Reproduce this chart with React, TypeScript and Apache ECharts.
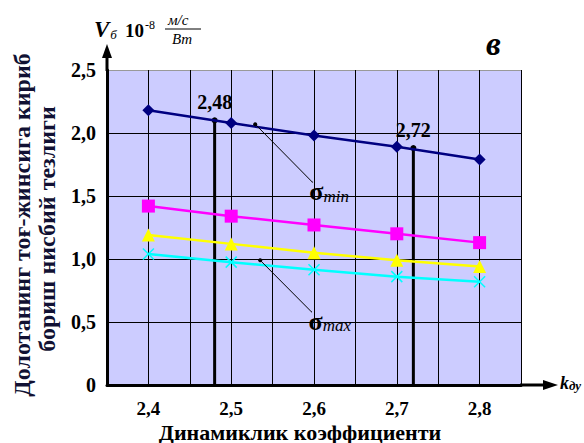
import React, { useEffect, useRef } from "react";
import * as echarts from "echarts";

const xCategories = [2.4, 2.5, 2.6, 2.7, 2.8];
const sigmaMin = [2.18, 2.08, 1.98, 1.89, 1.79];
const magentaSeries = [1.42, 1.34, 1.27, 1.2, 1.13];
const yellowSeries = [1.19, 1.12, 1.05, 0.99, 0.94];
const sigmaMax = [1.04, 0.975, 0.915, 0.86, 0.82];
const dropPoints = [
  { x: 2.48, y: 2.1, label: "2,48" },
  { x: 2.72, y: 1.88, label: "2,72" },
];
const pointerMin = [[2.529, 2.07], [2.598, 1.61]];
const pointerMax = [[2.535, 0.99], [2.597, 0.58]];

const SERIF = "Liberation Serif";

function pairs(vals: number[]) {
  return xCategories.map((x, i) => [x, vals[i]]);
}

export default function App() {
  const ref = useRef<HTMLDivElement>(null);
  useEffect(() => {
    if (!ref.current) return;
    const chart = echarts.init(ref.current, undefined, { renderer: "svg" });
    const markerSeries = (name: string, vals: number[], color: string, symbol: string, size: number) => ({
      name,
      type: "line",
      data: pairs(vals),
      symbol,
      symbolSize: size,
      lineStyle: { color, width: 2.5 },
      itemStyle: { color },
      z: 5,
    });
    const drops = dropPoints.map((p) => ({
      type: "line",
      data: [
        {
          value: [p.x, p.y],
          symbol: "circle",
          symbolSize: 6,
          label: {
            show: true,
            position: "top",
            distance: 5,
            formatter: p.label,
            fontFamily: SERIF,
            fontWeight: "bold",
            fontSize: 20,
            color: "#000",
          },
        },
        { value: [p.x, 0], symbol: "none" },
      ],
      lineStyle: { color: "#000", width: 3 },
      itemStyle: { color: "#000" },
      z: 4,
    }));
    const pointer = (pts: number[][], sub: string) => ({
      type: "line",
      data: [
        { value: pts[0], symbol: "circle", symbolSize: 4 },
        {
          value: pts[1],
          symbol: "circle",
          symbolSize: 1,
          label: {
            show: true,
            position: "bottom",
            align: "left",
            distance: -4,
            offset: [-3, 0],
            formatter: `{s|σ}{t|${sub}}`,
            rich: {
              s: { fontFamily: SERIF, fontWeight: "bold", fontSize: 26, color: "#000" },
              t: { fontFamily: SERIF, fontStyle: "italic", fontSize: 17, color: "#000", padding: [9, 0, 0, 0] },
            },
          },
        },
      ],
      lineStyle: { color: "#000", width: 1 },
      itemStyle: { color: "#000" },
      z: 6,
    });
    chart.setOption({
      animation: false,
      grid: {
        left: 107,
        top: 70,
        right: 63,
        bottom: 58,
        show: true,
        backgroundColor: "#CCCCFF",
        borderWidth: 0,
        containLabel: false,
      },
      xAxis: {
        type: "value",
        min: 2.35,
        max: 2.85,
        interval: 0.05,
        axisLine: { show: true, lineStyle: { color: "#000", width: 3 } },
        axisTick: { show: false },
        splitLine: { show: true, lineStyle: { color: "#000", width: 1 } },
        axisLabel: {
          margin: 14,
          fontFamily: SERIF,
          fontWeight: "bold",
          fontSize: 19,
          lineHeight: 19,
          color: "#000",
          formatter: (v: number) => {
            const h = Math.round(v * 100);
            if (h % 10 !== 0) return "";
            return (h / 100).toFixed(1).replace(".", ",");
          },
        },
      },
      yAxis: {
        type: "value",
        min: 0,
        max: 2.5,
        interval: 0.5,
        axisLine: { show: true, lineStyle: { color: "#000", width: 3 } },
        axisTick: { show: false },
        splitLine: {
          show: true,
          lineStyle: { color: ["#000", "#000", "#000", "#000", "#000", "#999"], width: 1 },
        },
        axisLabel: {
          margin: 11,
          fontFamily: SERIF,
          fontWeight: "bold",
          fontSize: 20,
          color: "#000",
          formatter: (v: number) => (v === 0 ? "0" : v.toFixed(1).replace(".", ",")),
        },
      },
      series: [
        ...drops,
        markerSeries("σmin", sigmaMin, "#000080", "diamond", 12),
        markerSeries("m", magentaSeries, "#FF00FF", "rect", 13),
        markerSeries("y", yellowSeries, "#FFFF00", "triangle", 13),
        {
          ...markerSeries("σmax", sigmaMax, "#00FFFF", "path://M0,0L10,10M10,0L0,10", 11),
          itemStyle: { color: "none", borderColor: "#00FFFF", borderWidth: 1.5 },
        },
        pointer(pointerMin, "min"),
        pointer(pointerMax, "max"),
      ],
      graphic: [
        { type: "line", shape: { x1: 107, y1: 71, x2: 107, y2: 56 }, style: { stroke: "#000", lineWidth: 3 } },
        { type: "polygon", shape: { points: [[107, 44], [102, 58], [112, 58]] }, style: { fill: "#000" } },
        { type: "line", shape: { x1: 520, y1: 385, x2: 545, y2: 385 }, style: { stroke: "#000", lineWidth: 3 } },
        { type: "polygon", shape: { points: [[558, 385], [543, 380], [543, 390]] }, style: { fill: "#000" } },
        {
          type: "text",
          x: 94,
          y: 18,
          style: {
            text: "{v|V}{b|б}",
            rich: {
              v: { fontFamily: SERIF, fontStyle: "italic", fontWeight: "bold", fontSize: 23, fill: "#000" },
              b: { fontFamily: SERIF, fontStyle: "italic", fontSize: 13, fill: "#000", padding: [9, 0, 0, 1] },
            },
          },
        },
        {
          type: "text",
          x: 125,
          y: 19,
          style: {
            text: "{n|10}{e|-8}",
            rich: {
              n: { fontFamily: SERIF, fontWeight: "bold", fontSize: 19, fill: "#000" },
              e: { fontFamily: SERIF, fontSize: 12, fill: "#000", padding: [0, 0, 10, 1] },
            },
          },
        },
        { type: "text", x: 168, y: 12, style: { text: "м/с", fontFamily: SERIF, fontStyle: "italic", fontSize: 15, fill: "#000" } },
        { type: "line", shape: { x1: 165, y1: 29, x2: 201, y2: 29 }, style: { stroke: "#000", lineWidth: 1 } },
        { type: "text", x: 172, y: 31, style: { text: "Вт", fontFamily: SERIF, fontStyle: "italic", fontSize: 15, fill: "#000" } },
        { type: "text", x: 486, y: 27, style: { text: "в", fontFamily: SERIF, fontStyle: "italic", fontWeight: "bold", fontSize: 33, fill: "#000" } },
        {
          type: "text",
          x: 560,
          y: 374,
          style: {
            text: "{k|k}{d|ду}",
            rich: {
              k: { fontFamily: SERIF, fontStyle: "italic", fontWeight: "bold", fontSize: 18, fill: "#000" },
              d: { fontFamily: SERIF, fontStyle: "italic", fontWeight: "bold", fontSize: 13, fill: "#000", padding: [5, 0, 0, 0] },
            },
          },
        },
        {
          type: "text",
          x: 300,
          y: 432,
          style: {
            text: "Динамиклик коэффициенти",
            fontFamily: SERIF,
            fontWeight: "bold",
            fontSize: 22,
            lineHeight: 22,
            fill: "#000",
            align: "center",
            verticalAlign: "middle",
          },
        },
        {
          type: "text",
          x: 22,
          y: 225,
          rotation: Math.PI / 2,
          style: {
            text: "Долотанинг тоғ-жинсига кириб",
            fontFamily: SERIF,
            fontWeight: "bold",
            fontSize: 24,
            fill: "#111133",
            align: "center",
            verticalAlign: "middle",
          },
        },
        {
          type: "text",
          x: 47,
          y: 229,
          rotation: Math.PI / 2,
          style: {
            text: "бориш нисбий тезлиги",
            fontFamily: SERIF,
            fontWeight: "bold",
            fontSize: 24,
            fill: "#111133",
            align: "center",
            verticalAlign: "middle",
          },
        },
      ],
    });
    return () => chart.dispose();
  }, []);
  return <div ref={ref} style={{ width: 584, height: 443, position: "absolute", left: 0, top: 0 }} />;
}
